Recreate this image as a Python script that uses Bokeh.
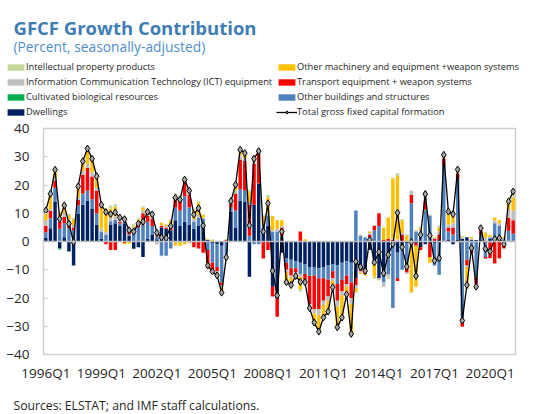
from bokeh.plotting import figure
from bokeh.layouts import column
from bokeh.models import (ColumnDataSource, Legend, LegendItem, Label, FixedTicker,
                          Span, Range1d)
from bokeh.embed import file_html
from bokeh.resources import INLINE

# ---------------- data (percent contributions, quarterly 1996Q1-2021Q2) ----------------
quarters = [f"{y}Q{q}" for y in range(1996, 2022) for q in range(1, 5)][:102]
tick_labels = ["1996Q1", "1999Q1", "2002Q1", "2005Q1", "2008Q1", "2011Q1", "2014Q1", "2017Q1", "2020Q1"]
y_ticks = [-40, -30, -20, -10, 0, 10, 20, 30, 40]

dwellings = [
    1.4, 4.7, 14.0, -2.5, 1.5, -3.5, -8.5, 9.7, 13.0, 14.5,
    11.5, 6.0, 1.0, 0.2, 6.0, 6.5, 5.5, 6.5, 2.0, -2.6,
    -2.0, -5.5, 1.0, 2.5, 0.8, 5.0, 4.5, 4.0, 7.5, 5.5,
    7.0, 6.0, 4.5, 5.5, 6.0, 0.5, -0.5, -1.0, -1.5, 0.3,
    10.5, 5.0, 14.5, 14.0, -12.5, 13.0, 20.5, 4.5, 5.5, -16.0,
    -20.0, -4.0, -6.0, -6.5, -7.0, -7.5, -8.0, -9.0, -9.0, -9.5,
    -9.0, -8.5, -8.0, -8.5, -7.5, -7.0, -7.5, -13.0, -10.0, -11.0,
    -3.0, -7.0, -13.0, -12.5, -6.0, -1.0, -4.0, -1.5, -0.5, -0.5,
    -0.5, -2.0, -1.0, -0.5, -0.5, 0.5, 0.3, 0.5, -1.0, 0.5,
    1.0, 1.5, 0.5, 0.5, 0.5, 0.3, 1.0, 0.5, 0.5, 0.3,
    0.3, 0.3]
other_buildings = [
    1.9, 3.5, 5.0, 4.5, 5.0, 4.8, 4.0, 3.0, 4.0, 3.5,
    3.5, 4.0, 2.5, 2.2, 1.2, 1.2, 1.0, 0.5, 0.5, 3.8,
    5.0, 6.0, 6.0, 3.0, 1.0, -5.0, -5.0, -2.5, 4.5, 5.5,
    9.0, 6.0, 2.5, 3.0, 2.0, -3.0, -7.0, -8.0, -13.0, -4.5,
    1.5, 6.0, 4.0, 4.0, 2.0, -1.0, -1.0, 0.5, 3.5, 3.5,
    3.5, 2.0, -1.5, -3.0, -2.5, -4.0, -3.5, -3.0, -3.0, -3.5,
    -4.0, -5.0, -2.5, -6.5, -6.0, -5.0, -7.0, 11.0, 2.0, 1.5,
    1.5, 4.0, 5.5, -2.0, -5.5, -22.5, -9.0, -8.5, -9.0, 13.5,
    3.5, 3.0, 11.0, 9.0, -8.0, -11.5, 26.5, 3.0, 2.5, 22.0,
    -27.0, -6.5, -3.0, -12.5, 2.0, -5.5, 0.5, 6.0, 5.0, 0.5,
    3.5, 2.4]
cultivated = [
    0.0, 0.0, 0.0, -0.3, 0.0, 0.0, 0.0, 0.0, 0.0, 0.0,
    0.0, 0.0, 0.0, 0.0, 0.0, 0.0, 0.0, 0.0, 0.0, 0.0,
    0.0, 0.0, 0.0, 0.0, 0.0, 0.0, 0.0, 0.0, 0.0, 0.0,
    0.0, 0.0, 0.0, 0.0, 0.0, 0.0, 0.0, 0.0, 0.0, 0.0,
    0.0, 0.0, 0.0, 0.0, 0.0, 0.0, 0.0, 0.0, 0.0, 0.0,
    0.0, 0.0, 0.0, 0.0, 0.0, 0.0, 0.0, -0.2, 0.0, 0.0,
    0.0, 0.0, 0.0, 0.0, 0.0, 0.0, 0.0, 0.0, 0.0, 0.0,
    0.0, 0.0, 0.0, 0.0, 0.0, 0.0, 0.0, 0.0, 0.0, 0.0,
    0.0, 0.0, 0.2, 0.0, 0.0, -0.3, 0.0, 0.0, 0.0, 0.0,
    -0.2, 0.0, 0.0, -0.2, 0.0, 0.0, -0.3, -0.3, 0.0, 0.0,
    0.0, 0.0]
transport = [
    2.3, 2.7, 2.5, 2.5, 2.2, 1.5, 1.0, 2.0, 6.5, 8.0,
    8.0, 8.0, 0.0, -1.0, -3.0, -3.0, 0.5, -0.5, 1.0, 0.5,
    1.0, 4.0, 2.0, 2.5, 0.3, 0.5, 0.5, 1.5, 3.5, 3.5,
    5.5, 4.5, -2.0, -2.5, -4.0, -6.5, -3.5, -1.5, -1.0, 0.2,
    1.5, 6.0, 10.5, 10.5, 11.0, 14.5, 10.5, -6.0, -3.0, -3.5,
    -6.6, 3.0, -2.5, -2.5, -1.5, 3.5, -2.0, -10.0, -12.0, -11.0,
    -8.0, -6.0, -2.5, -6.0, -4.0, -3.0, -5.5, -2.5, -0.5, -0.5,
    1.0, 1.5, 4.5, 0.5, 1.0, 0.5, -1.0, 2.5, -1.5, 3.0,
    -1.0, -1.0, 3.0, -5.0, 1.0, 2.0, 2.5, 1.5, 2.5, 1.5,
    -3.0, -2.0, -1.0, -2.5, 1.5, -0.5, -5.5, -7.5, -6.0, -2.5,
    4.5, 4.8]
ict = [
    1.8, 0.5, 1.0, 0.8, 1.5, 1.5, 0.8, 1.0, 1.5, 1.5,
    1.5, 1.0, 1.0, 1.0, 1.2, 1.2, 1.0, 1.0, 0.8, 0.8,
    1.0, 1.0, 0.5, 0.5, -1.0, 0.3, 0.5, 0.5, 0.8, 1.0,
    0.5, 1.0, 1.0, 1.0, 0.5, 0.0, -0.3, -0.5, -0.8, -0.5,
    0.3, 1.0, 1.5, 1.0, 1.0, 1.5, 1.2, 1.0, 1.0, 0.5,
    1.0, 0.5, -0.8, -0.8, -0.5, -1.0, -0.8, -0.8, -1.5, -2.0,
    -1.5, -1.5, -1.0, -2.0, -1.5, -1.0, -2.0, -1.0, -0.5, -0.3,
    0.5, 0.3, -0.5, -1.5, -1.0, 0.3, 0.7, 0.5, -0.5, 1.5,
    0.5, 1.0, 1.8, 0.5, 0.3, 1.0, 0.2, 1.0, 1.5, 0.5,
    0.5, -0.5, 0.5, -0.8, 0.2, 1.0, 0.3, 1.0, 1.0, 0.5,
    3.0, 3.5]
other_machinery = [
    2.6, 5.0, 2.4, 2.5, 2.3, 1.5, 1.8, 3.3, 3.0, 5.0,
    4.5, 3.8, 7.5, 7.3, 3.3, 3.4, 0.0, -0.5, -0.8, 0.5,
    0.8, 1.0, 0.5, 0.8, 1.5, 0.8, 0.5, 1.5, -1.5, -1.5,
    -1.0, -0.5, 3.0, 4.3, 1.0, 0.3, 0.5, -1.0, -1.5, -1.5,
    0.3, 2.0, 1.5, 1.5, 3.5, 1.0, 0.5, 3.0, 5.5, 5.0,
    3.0, 2.0, -3.3, -2.3, -0.5, -4.5, 0.8, -0.5, -3.0, -5.5,
    -4.0, -3.5, -2.0, -7.0, -7.5, -2.5, -10.0, -1.5, -0.5, -0.3,
    0.5, -5.5, -0.2, 4.5, 7.5, 21.5, 22.5, 4.5, 2.0, -17.5,
    -14.5, 1.0, 0.5, -2.0, 0.3, 1.5, 1.0, 4.0, 3.7, 0.8,
    0.3, -7.5, 0.5, -0.5, 0.3, 1.8, 0.5, 1.0, 1.0, 0.5,
    2.5, 4.5]
ipp = [
    1.0, 0.5, 0.5, 0.2, 0.3, 0.5, 0.7, 0.5, 0.4, 0.4,
    0.3, 0.3, 1.0, 0.7, 1.0, 1.0, 0.5, 0.9, 0.5, 0.5,
    0.5, 0.5, 0.5, 0.3, 0.5, -0.2, 0.2, 0.5, 0.7, 0.8,
    0.9, 1.0, 0.5, 0.5, 0.1, 0.2, 0.2, 0.0, -0.3, 0.4,
    0.2, 0.1, 0.5, 0.3, 0.7, 0.3, 0.3, 0.5, 1.0, 0.1,
    0.0, 0.0, -0.3, -0.3, -0.2, -0.8, -0.9, -0.3, -0.2, -0.4,
    -0.4, -0.3, -0.2, -0.4, -0.4, -0.2, -0.7, -0.1, 0.5, 0.2,
    0.1, -0.7, 0.0, -0.2, -0.7, 0.3, 1.0, 0.5, 0.6, -0.2,
    -0.2, 0.4, 1.5, 0.1, 0.1, 0.6, 0.2, 0.6, 0.5, 0.2,
    0.2, -0.4, 0.2, -0.2, 0.2, 0.3, -0.3, -0.1, -0.3, -0.2,
    0.4, 2.2]
total_gfcf = [
    11.0, 16.9, 25.4, 8.0, 12.8, 6.3, -0.2, 19.5, 28.4, 32.9,
    29.3, 23.1, 13.0, 10.4, 9.7, 10.3, 8.5, 7.9, 4.0, 3.5,
    6.3, 7.0, 10.5, 9.6, 3.1, 1.4, 1.2, 5.5, 15.5, 14.8,
    21.9, 18.0, 9.5, 11.8, 5.6, -8.5, -10.6, -12.0, -18.1, -5.6,
    14.3, 20.1, 32.5, 31.3, 5.7, 29.3, 32.0, 3.5, 13.5, -10.4,
    -19.1, 3.5, -14.4, -15.4, -12.2, -14.3, -14.4, -23.6, -28.7, -31.9,
    -26.9, -24.8, -16.2, -30.4, -26.9, -18.7, -32.7, -7.1, -9.0, -10.4,
    0.6, -7.4, -3.7, -11.2, -4.7, -0.9, 10.2, -2.0, -8.9, -0.2,
    -12.2, 2.4, 16.8, 2.1, -6.8, -5.9, 30.7, 10.6, 9.7, 25.5,
    -28.0, -15.4, -2.3, -16.0, 4.7, -2.6, -3.5, 0.9, 1.2, -0.9,
    14.2, 17.7]

# ---------------- styles ----------------
FONT = "Open Sans"
TEXT = "#262626"
series = [
    ("Dwellings", dwellings, "#002060"),
    ("Other buildings and structures", other_buildings, "#4F81BD"),
    ("Cultivated biological resources", cultivated, "#00B050"),
    ("Transport equipment + weapon systems", transport, "#FF0000"),
    ("Information Communication Technology (ICT) equipment", ict, "#BFBFBF"),
    ("Other machinery and equipment +weapon systems", other_machinery, "#FFC000"),
    ("Intellectual property products", ipp, "#C4D79B"),
]
TOTAL_NAME = "Total gross fixed capital formation"
W = 541
HEAD_H, MAIN_H, FOOT_H = 120, 266, 28

# ---------------- main chart ----------------
n = len(quarters)
xs = list(range(n))

p = figure(width=W, height=MAIN_H, output_backend="svg", toolbar_location=None, title=None,
           x_range=Range1d(-0.5, n - 0.5), y_range=Range1d(-40, 40),
           min_border_left=43, min_border_right=26, min_border_top=8, min_border_bottom=32)
p.frame_align = False
p.grid.visible = False
p.outline_line_color = "#D0D0D0"
p.outline_line_width = 1.5
p.background_fill_color = "white"
p.border_fill_color = "white"

sources = {}
pos = [0.0] * n
neg = [0.0] * n
for name, vals, color in series:
    bottoms, tops = [], []
    for i, v in enumerate(vals):
        if v >= 0:
            b = pos[i]; t = b + v; pos[i] = t
        else:
            b = neg[i]; t = b + v; neg[i] = t
        bottoms.append(b); tops.append(t)
    src = ColumnDataSource(dict(x=xs, bottom=bottoms, top=tops))
    sources[name] = src
    p.vbar(x="x", bottom="bottom", top="top", width=0.75, source=src,
           fill_color=color, line_color=None)

p.add_layout(Span(location=0, dimension="width", line_color="#BFBFBF", line_width=1.5))

tsrc = ColumnDataSource(dict(x=xs, y=total_gfcf))
p.line("x", "y", source=tsrc, line_color="black", line_width=1.3)
p.scatter("x", "y", source=tsrc, marker="diamond", size=7,
          fill_color="#A6A6A6", line_color="black", line_width=1)

p.yaxis.ticker = FixedTicker(ticks=y_ticks)
p.yaxis.axis_line_color = None
p.yaxis.major_tick_in = 4
p.yaxis.major_tick_out = 0
p.yaxis.major_tick_line_color = "#D0D0D0"
p.yaxis.minor_tick_line_color = None
p.yaxis.major_label_text_font = FONT
p.yaxis.major_label_text_font_size = "13.5px"
p.yaxis.major_label_text_color = TEXT
p.yaxis.major_label_standoff = 14

tick_pos = [quarters.index(t) for t in tick_labels]
p.xaxis.ticker = FixedTicker(ticks=tick_pos)
p.xaxis.major_label_overrides = {tp: lab for tp, lab in zip(tick_pos, tick_labels)}
p.xaxis.axis_line_color = None
p.xaxis.major_tick_line_color = None
p.xaxis.minor_tick_line_color = None
p.xaxis.major_label_text_font = FONT
p.xaxis.major_label_text_font_size = "13.5px"
p.xaxis.major_label_text_color = TEXT
p.xaxis.major_label_standoff = 3

# ---------------- header: title, subtitle and legend ----------------
# ranges placed away from the data so the legend proxies draw nothing in the header
h = figure(width=W, height=HEAD_H, output_backend="svg", toolbar_location=None, title=None,
           x_range=Range1d(1000, 1000 + W), y_range=Range1d(1000, 1000 + HEAD_H),
           x_axis_type=None, y_axis_type=None,
           min_border_left=0, min_border_right=0, min_border_top=0, min_border_bottom=0)
h.frame_align = False
h.grid.visible = False
h.outline_line_color = None
h.background_fill_color = "white"
h.border_fill_color = "white"

h.add_layout(Label(x=13, y=HEAD_H - 27, x_units="screen", y_units="screen",
                   text="GFCF Growth Contribution", text_font=FONT,
                   text_font_style="bold", text_font_size="18.5px", text_color="#3F7DB5",
                   text_baseline="alphabetic"))
h.add_layout(Label(x=13, y=HEAD_H - 46, x_units="screen", y_units="screen",
                   text="(Percent, seasonally-adjusted)", text_font=FONT,
                   text_font_size="13.8px", text_color="#4F8FCB", text_baseline="alphabetic"))

proxy = {}
for name, _, color in series:
    proxy[name] = h.vbar(x="x", bottom="bottom", top="top", width=0.75, source=sources[name],
                         fill_color=color, line_color=None)
pl = h.line("x", "y", source=tsrc, line_color="black", line_width=1.3)
ps = h.scatter("x", "y", source=tsrc, marker="diamond", size=7,
               fill_color="#A6A6A6", line_color="black", line_width=1)

left_names = ["Intellectual property products",
              "Information Communication Technology (ICT) equipment",
              "Cultivated biological resources", "Dwellings"]
right_names = ["Other machinery and equipment +weapon systems",
               "Transport equipment + weapon systems",
               "Other buildings and structures"]

def make_legend(items, vx, vy):
    return Legend(items=items, location=(vx, vy), orientation="vertical",
                  glyph_width=21, glyph_height=8, label_height=12, label_standoff=0,
                  spacing=2, padding=0, margin=0, border_line_color=None,
                  background_fill_alpha=0, label_text_font=FONT,
                  label_text_font_size="9.3px", label_text_color=TEXT)

left_items = [LegendItem(label=nm, renderers=[proxy[nm]]) for nm in left_names]
right_items = [LegendItem(label=nm, renderers=[proxy[nm]]) for nm in right_names]
right_items.append(LegendItem(label=TOTAL_NAME, renderers=[pl, ps]))
h.add_layout(make_legend(left_items, 5, 2))
h.add_layout(make_legend(right_items, 276, 2))

# ---------------- footer: source note ----------------
f = figure(width=W, height=FOOT_H, output_backend="svg", toolbar_location=None, title=None,
           x_range=Range1d(0, W), y_range=Range1d(0, FOOT_H), x_axis_type=None, y_axis_type=None,
           min_border_left=0, min_border_right=0, min_border_top=0, min_border_bottom=0)
f.frame_align = False
f.grid.visible = False
f.outline_line_color = None
f.background_fill_color = "white"
f.border_fill_color = "white"
f.add_layout(Label(x=13, y=9, x_units="screen", y_units="screen",
                   text="Sources: ELSTAT; and IMF staff calculations.", text_font=FONT,
                   text_font_size="12.2px", text_color=TEXT, text_baseline="alphabetic"))

open("out.html", "w").write(file_html(column(h, p, f), INLINE))
